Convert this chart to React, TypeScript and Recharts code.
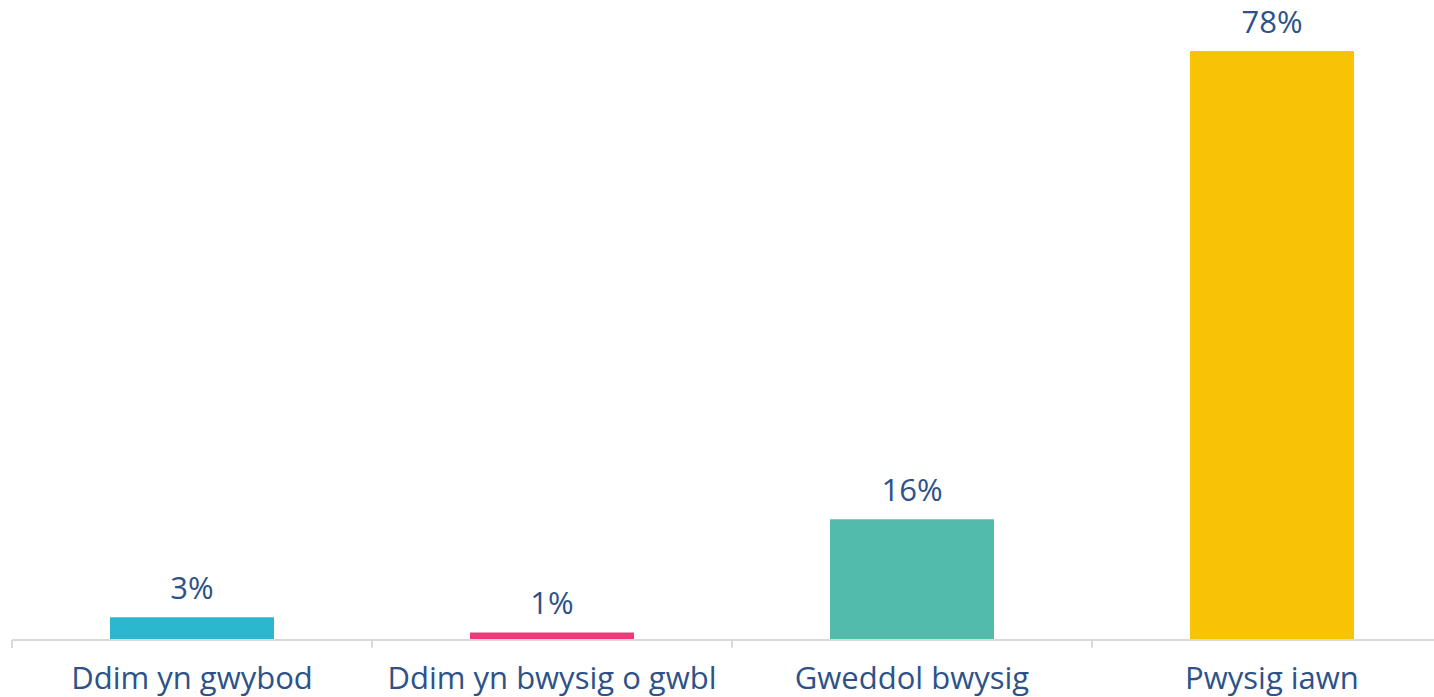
import { BarChart, Bar, XAxis, YAxis, Cell, LabelList } from "recharts";

const categories = ["Ddim yn gwybod", "Ddim yn bwysig o gwbl", "Gweddol bwysig", "Pwysig iawn"];
const values = [3, 1, 16, 78];
const colors = ["#2bb8cf", "#f0377b", "#52bbab", "#f8c304"];
const boundaryTicks = [0, 1, 2, 3, 4];

const TEXT = "#2d5289";
const FONT = "'Open Sans', sans-serif";

const data = categories.map((name, i) => ({ name, value: values[i], edge: i }));

export default function App() {
    return (
        <div style={{ position: "fixed", top: 0, left: 0, width: 1434, height: 697, overflow: "hidden", background: "#fff" }}>
            <BarChart
                width={1452}
                height={697}
                data={data}
                margin={{ top: 51, right: 0, left: 12, bottom: 0 }}
                barSize={164}
            >
                {/* boundary ticks between categories, sits right under the bars */}
                <XAxis
                    xAxisId="a"
                    dataKey="edge"
                    type="number"
                    scale="linear"
                    domain={[0, categories.length]}
                    allowDataOverflow
                    ticks={boundaryTicks}
                    tickFormatter={() => ""}
                    tickSize={8}
                    height={1}
                    axisLine={{ stroke: "#d9d9d9", strokeWidth: 2 }}
                    tickLine={{ stroke: "#d9d9d9", strokeWidth: 2 }}
                />
                <XAxis
                    xAxisId="b"
                    dataKey="name"
                    height={56}
                    axisLine={false}
                    tickLine={false}
                    tickSize={0}
                    tickMargin={26}
                    interval={0}
                    tick={{ fill: TEXT, fontSize: 31, fontFamily: FONT }}
                />
                <YAxis hide domain={[0, 78]} />
                <Bar dataKey="value" xAxisId="b" isAnimationActive={false}>
                    {data.map((d, i) => (
                        <Cell key={d.name} fill={colors[i]} />
                    ))}
                    <LabelList
                        dataKey="value"
                        position="top"
                        offset={18}
                        formatter={(v: any) => `${v}%`}
                        style={{ fill: TEXT, fontSize: 31, fontFamily: FONT }}
                    />
                </Bar>
            </BarChart>
        </div>
    );
}
